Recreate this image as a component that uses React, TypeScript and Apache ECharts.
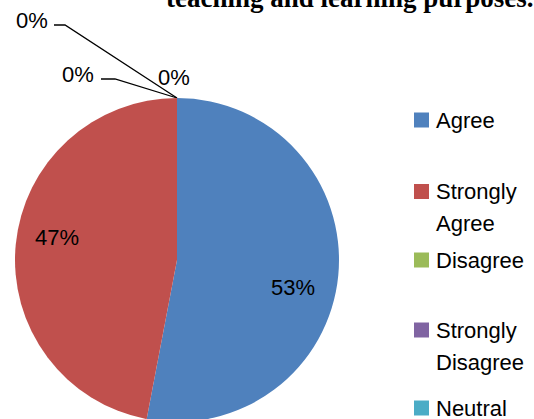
import React, { useEffect, useRef } from 'react';
import * as echarts from 'echarts';

const categories = ['Agree', 'Strongly Agree', 'Disagree', 'Strongly Disagree', 'Neutral'];
const values = [53, 47, 0, 0, 0];
const legendLabels = ['Agree', 'Strongly\nAgree', 'Disagree', 'Strongly\nDisagree', 'Neutral'];
const titleText = 'teaching and learning purposes.';

const colors = ['#4F81BD', '#C0504D', '#9BBB59', '#8064A2', '#4BACC6'];
const FONT = '"Liberation Sans", Arial, sans-serif';

// label layout (positions in px)
const labelPos: { x: number; y: number; line?: number[][] }[] = [
  { x: 293, y: 287 },
  { x: 57, y: 237 },
  { x: 78, y: 74, line: [[101, 79], [115, 79], [177, 98]] },
  { x: 32, y: 20, line: [[54, 25], [65, 25], [177, 98]] },
  { x: 174, y: 77 },
];
const legendTops = [109, 143.5, 249, 282, 397];

export default function App() {
  const ref = useRef<HTMLDivElement>(null);
  useEffect(() => {
    if (!ref.current) return;
    const chart = echarts.init(ref.current, undefined, { renderer: 'svg' });
    const option: any = {
      animation: false,
      backgroundColor: '#fff',
      title: {
        text: titleText,
        left: 166,
        top: -16,
        padding: 0,
        textStyle: {
          fontFamily: '"Liberation Serif", "Times New Roman", serif',
          fontWeight: 'bold',
          fontSize: 27,
          color: '#000',
        },
      },
      legend: categories.map((name, i) => {
        const two = legendLabels[i].includes('\n');
        return {
          data: [name],
          left: 414,
          top: legendTops[i],
          padding: 0,
          orient: 'vertical',
          icon: 'rect',
          itemWidth: 15,
          itemHeight: 15,
          selectedMode: false,
          formatter: (n: string) => {
            const t = legendLabels[categories.indexOf(n)];
            return t.includes('\n') ? ' \n' + t : t;
          },
          textStyle: {
            fontFamily: FONT,
            fontSize: 22,
            color: '#000',
            lineHeight: two ? 32 : 22,
            padding: [0, 0, 0, 2],
          },
        };
      }),
      series: [
        {
          type: 'pie',
          center: [177, 260],
          radius: 162,
          startAngle: 90,
          clockwise: true,
          silent: true,
          avoidLabelOverlap: false,
          label: {
            show: true,
            formatter: (p: any) => Math.round(p.percent) + '%',
            fontFamily: FONT,
            fontSize: 22,
            color: '#000',
          },
          labelLine: {
            show: true,
            length: 10,
            length2: 10,
            lineStyle: { color: '#000', width: 1.3 },
          },
          labelLayout: (params: any) => {
            const p = labelPos[params.dataIndex];
            const r: any = { x: p.x, y: p.y, align: 'center', verticalAlign: 'middle' };
            if (p.line) r.labelLinePoints = p.line;
            return r;
          },
          data: categories.map((name, i) => ({
            name,
            value: values[i],
            itemStyle: { color: colors[i] },
            label: { position: i < 2 ? 'inside' : 'outside' },
            labelLine: { show: i === 2 || i === 3 },
          })),
        },
      ],
    };
    chart.setOption(option);
    return () => chart.dispose();
  }, []);
  return (
    <div
      ref={ref}
      style={{ position: 'fixed', left: 0, top: 0, width: 534, height: 419 }}
    />
  );
}
